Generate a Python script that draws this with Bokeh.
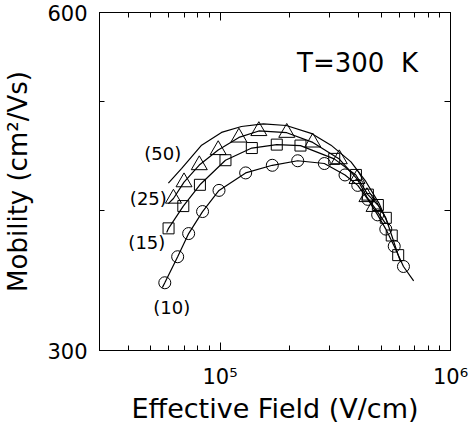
from bokeh.plotting import figure
from bokeh.models import LogAxis, FixedTicker, Label, Range1d
from bokeh.embed import file_html
from bokeh.resources import INLINE

# ---------------- data ----------------
# (10) series : circles
field_10 = [5.76e4, 6.55e4, 7.31e4, 8.40e4, 9.90e4, 1.292e5, 1.686e5, 2.173e5,
            2.836e5, 3.486e5, 3.96e5, 4.38e5, 4.83e5, 5.24e5, 5.70e5, 6.25e5]
mob_10 = [344.7, 363.6, 381.3, 398.9, 416.6, 431.8, 438.6, 442.7,
          440.2, 430.0, 420.9, 409.0, 396.2, 384.8, 371.5, 356.4]
# (15) series : squares
field_15 = [5.98e4, 6.93e4, 8.18e4, 1.056e5, 1.374e5, 1.763e5, 2.234e5,
            3.13e5, 3.887e5, 4.38e5, 4.84e5, 5.24e5, 5.56e5, 5.93e5]
mob_15 = [385.4, 403.4, 421.4, 443.2, 454.4, 457.6, 456.7,
          444.4, 430.0, 413.0, 404.3, 393.8, 379.8, 364.8]
# (25) series : triangles
field_25 = [6.28e4, 6.98e4, 8.13e4, 9.82e4, 1.208e5, 1.474e5, 1.948e5,
            2.527e5, 3.293e5, 3.93e5, 4.34e5, 4.66e5]
mob_25 = [409.7, 423.7, 438.8, 452.6, 464.4, 470.6, 468.9,
          459.7, 444.2, 426.6, 411.0, 402.8]

# fitted curves (line only)
curve_field_10 = [5.62e4] + field_10 + [6.92e5]
curve_mob_10 = [341.3] + mob_10 + [346.1]
curve_field_15 = [5.87e4] + field_15 + [6.08e5]
curve_mob_15 = [382.1] + mob_15 + [359.7]
curve_field_25 = [5.97e4] + field_25 + [5.24e5]
curve_mob_25 = [405.5] + mob_25 + [389.0]
curve_field_50 = [5.97e4, 6.82e4, 8.32e4, 1.015e5, 1.239e5, 1.541e5, 1.938e5,
                  2.484e5, 3.03e5, 3.70e5, 4.29e5, 4.89e5, 5.40e5]
curve_mob_50 = [422.8, 435.8, 457.1, 469.2, 474.9, 477.4, 475.9,
                468.3, 457.1, 441.7, 424.3, 405.9, 387.5]

# curve labels
curve_labels = ["(50)", "(25)", "(15)", "(10)"]
curve_label_field = [5.645e4, 4.887e4, 4.814e4, 6.17e4]
curve_label_mob = [448.9, 409.9, 374.1, 327.8]

# axes
x_major = [1e5, 1e6]
x_minor = [k * 10 ** e for e in (4, 5) for k in range(2, 10)]
y_ticks = [300, 400, 500, 600]
x_tick_text = {100000: "10\u2075", 1000000: "10\u2076"}
y_tick_text = {300: "300", 400: "", 500: "", 600: "600"}

FONT = "DejaVu Sans"

p = figure(width=474, height=426, x_axis_type="log", y_axis_type="log",
           x_range=Range1d(3e4, 1e6), y_range=Range1d(300, 600),
           output_backend="svg", toolbar_location=None,
           min_border_left=97, min_border_right=24, min_border_top=12,
           min_border_bottom=74)
p.xgrid.visible = False
p.ygrid.visible = False
p.background_fill_color = "white"
p.border_fill_color = "white"
p.outline_line_color = "black"
p.outline_line_width = 1


def base_style(ax):
    ax.axis_line_color = "black"
    ax.axis_line_width = 1
    ax.major_tick_line_color = "black"
    ax.minor_tick_line_color = "black"
    ax.major_tick_out = 0
    ax.minor_tick_out = 0


def hide_labels(ax):
    ax.major_label_text_font_size = "1px"
    ax.major_label_text_alpha = 0
    ax.major_label_standoff = 0


# bottom axis
xb = p.xaxis[0]
xb.ticker = FixedTicker(ticks=x_major, minor_ticks=x_minor)
base_style(xb)
xb.major_tick_in = 8
xb.minor_tick_in = 5
xb.major_label_overrides = x_tick_text
xb.major_label_text_font = FONT
xb.major_label_text_font_size = "21px"
xb.major_label_text_color = "black"
xb.major_label_standoff = 14
xb.axis_label = "Effective Field (V/cm)"
xb.axis_label_text_font = FONT
xb.axis_label_text_font_size = "27px"
xb.axis_label_text_font_style = "normal"
xb.axis_label_text_color = "black"
xb.axis_label_standoff = 1

# left axis
yl = p.yaxis[0]
yl.ticker = FixedTicker(ticks=y_ticks, minor_ticks=[])
base_style(yl)
yl.major_tick_in = 5
yl.major_label_overrides = y_tick_text
yl.major_label_text_font = FONT
yl.major_label_text_font_size = "21px"
yl.major_label_text_color = "black"
yl.major_label_standoff = 12
yl.axis_label = "Mobility (cm\u00b2/Vs)"
yl.axis_label_text_font = FONT
yl.axis_label_text_font_size = "26px"
yl.axis_label_text_font_style = "normal"
yl.axis_label_text_color = "black"
yl.axis_label_standoff = 11

# mirrored top / right axes (ticks only)
xa = LogAxis(ticker=FixedTicker(ticks=x_major, minor_ticks=x_minor))
base_style(xa)
xa.major_tick_in = 8
xa.minor_tick_in = 5
hide_labels(xa)
p.add_layout(xa, "above")

yr = LogAxis(ticker=FixedTicker(ticks=y_ticks, minor_ticks=[]))
base_style(yr)
yr.major_tick_in = 6
hide_labels(yr)
p.add_layout(yr, "right")

# curves
for cx, cy in [(curve_field_50, curve_mob_50), (curve_field_25, curve_mob_25),
               (curve_field_15, curve_mob_15), (curve_field_10, curve_mob_10)]:
    p.line(cx, cy, line_color="black", line_width=1.2)

p.scatter(field_10, mob_10, marker="circle", size=12, fill_color=None,
          line_color="black", line_width=1)
p.scatter(field_15, mob_15, marker="square", size=11, fill_color=None,
          line_color="black", line_width=1)
p.scatter(field_25, mob_25, marker="triangle", size=16, fill_color=None,
          line_color="black", line_width=1)

for t, fx, my in zip(curve_labels, curve_label_field, curve_label_mob):
    p.add_layout(Label(x=fx, y=my, text=t, text_align="center",
                       text_baseline="middle", text_font=FONT,
                       text_font_size="18px", text_color="black"))

p.add_layout(Label(x=3.95e5, y=541.4, text="T=300\u00a0\u00a0K",
                   text_align="center", text_baseline="middle",
                   text_font=FONT, text_font_size="26px",
                   text_color="black"))

open("out.html", "w").write(file_html(p, INLINE))
